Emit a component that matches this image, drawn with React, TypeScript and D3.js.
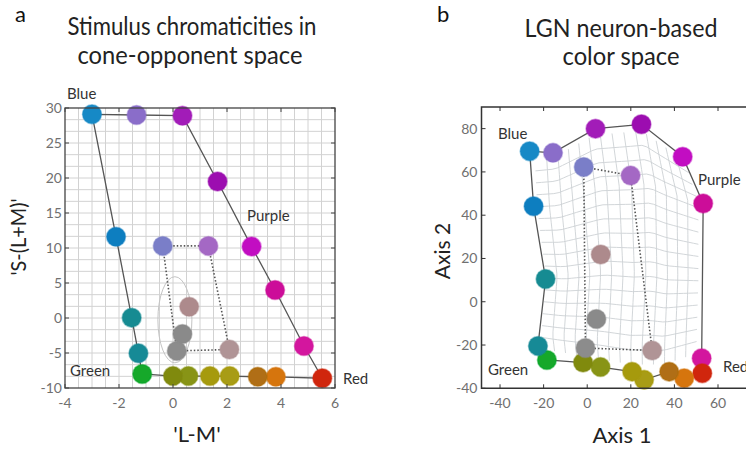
import React from 'react';
import * as d3 from 'd3';

const width = 746;
const height = 449;
const font = 'Lato, "Open Sans", sans-serif';
const lineColor = '#555';
const gridColor = '#d2d2d2';

// 24 stimuli: 18 on the outline (in drawing order), then 6 inner ones
const stimColors = [
  '#1689c6', '#8a6dc9', '#a21bb8', '#9c0fb0', '#c20fc2', '#cc1199',
  '#d3189e', '#d0260f', '#d67510', '#b06e12', '#a89c12', '#a69a10',
  '#889414', '#808a10', '#12a82c', '#168a96', '#168b92', '#0f7ec0',
  '#7a7ec8', '#a468c4', '#b09496', '#8c8c8c', '#8a8a8a', '#ad8a8c',
];
// panel a: cone-opponent coordinates
const lmValues = [
  -3.0, -1.35, 0.35, 1.65, 2.91, 3.78, 4.85, 5.53, 3.81, 3.14, 2.1, 1.37,
  0.57, 0.0, -1.14, -1.28, -1.53, -2.11,
  -0.38, 1.31, 2.09, 0.14, 0.35, 0.6,
];
const sValues = [
  29.1, 29.0, 28.9, 19.5, 10.2, 4.0, -4.0, -8.6, -8.4, -8.4, -8.3, -8.3,
  -8.3, -8.3, -8.0, -5.05, 0.05, 11.6,
  10.3, 10.3, -4.5, -4.7, -2.3, 1.6,
];
// panel b: LGN-based coordinates
const axis1Values = [
  -26.4, -15.7, 3.8, 24.9, 43.8, 53.2, 52.5, 52.8, 44.5, 37.6, 26.1, 20.6,
  6.1, -1.9, -18.5, -22.6, -19.1, -24.6,
  -1.6, 19.9, 29.8, -0.8, 4.2, 6.2,
];
const axis2Values = [
  69.6, 68.8, 80.0, 82.0, 67.0, 45.4, -26.1, -33.0, -35.3, -32.3, -36.1, -32.3,
  -30.2, -28.1, -26.9, -20.4, 10.5, 44.1,
  62.3, 58.3, -22.5, -21.4, -8.0, 21.8,
];
const outlineIdx = d3.range(18);
const dottedIdx = [18, 19, 20, 21];

// faint ellipse in panel a (data units)
const ellipseA = { cx: 0.07, cy: -0.25, rx: 0.63, ry: 6.15 };

// warped grid boundaries in panel b (data units)
const meshTop = [[-24, 66], [-15, 67], [3, 77], [25, 79], [45, 65]];
const meshBottom = [[-20, -22], [-2, -25], [20, -29], [35, -29], [50, -24]];
const meshLeft = [[-24, 66], [-23, 44], [-19, 12], [-21, -15], [-20, -22]];
const meshRight = [[45, 65], [51, 45], [51, 10], [50, -24]];

const xTicksA = [-4, -2, 0, 2, 4, 6];
const yTicksA = [-10, -5, 0, 5, 10, 15, 20, 25, 30];
const xTicksB = [-40, -20, 0, 20, 40, 60];
const yTicksB = [-40, -20, 0, 20, 40, 60, 80];

const xA = d3.scaleLinear().domain([-4, 6]).range([65, 335]);
const yA = d3.scaleLinear().domain([-10, 30]).range([388, 108]);
const xB = d3.scaleLinear().domain([-48.5, 80]).range([481.5, 761.6]);
const yB = d3.scaleLinear().domain([-40, 90]).range([388.3, 107]);

function along(pts, f) {
  const lens = [0];
  for (let i = 1; i < pts.length; i++) {
    lens.push(lens[i - 1] + Math.hypot(pts[i][0] - pts[i - 1][0], pts[i][1] - pts[i - 1][1]));
  }
  const target = f * lens[lens.length - 1];
  let i = 1;
  while (i < pts.length - 1 && lens[i] < target) i++;
  const seg = lens[i] - lens[i - 1] || 1;
  const u = Math.max(0, Math.min(1, (target - lens[i - 1]) / seg));
  return [pts[i - 1][0] + u * (pts[i][0] - pts[i - 1][0]), pts[i - 1][1] + u * (pts[i][1] - pts[i - 1][1])];
}

function meshLines() {
  const px = (pts) => pts.map((p) => [xB(p[0]), yB(p[1])]);
  const T = px(meshTop), B = px(meshBottom), L = px(meshLeft), R = px(meshRight);
  const c00 = T[0], c10 = T[T.length - 1], c01 = B[0], c11 = B[B.length - 1];
  const P = (s, t) => {
    const t1 = along(T, s), b1 = along(B, s), l1 = along(L, t), r1 = along(R, t);
    return [0, 1].map((k) =>
      (1 - t) * t1[k] + t * b1[k] + (1 - s) * l1[k] + s * r1[k] -
      ((1 - s) * (1 - t) * c00[k] + s * (1 - t) * c10[k] + (1 - s) * t * c01[k] + s * t * c11[k]));
  };
  const line = d3.line();
  const steps = d3.range(0, 1.0001, 1 / 30);
  const out = [];
  d3.range(1, 14).forEach((i) => out.push(line(steps.map((t) => P(i / 14, t)))));
  d3.range(1, 16).forEach((j) => out.push(line(steps.map((s) => P(s, j / 16)))));
  return out;
}

function Panel({ xs, ys, xv, yv, ellipse }) {
  const pts = xv.map((v, i) => [xs(v), ys(yv[i])]);
  const line = d3.line();
  return (
    <g>
      {ellipse && (
        <ellipse cx={xs(ellipse.cx)} cy={ys(ellipse.cy)}
          rx={xs(ellipse.cx + ellipse.rx) - xs(ellipse.cx)}
          ry={ys(ellipse.cy) - ys(ellipse.cy + ellipse.ry)}
          fill='none' stroke='#c4c4c4' strokeWidth='1' />
      )}
      <path d={line(outlineIdx.map((i) => pts[i])) + 'Z'} fill='none' stroke={lineColor} strokeWidth='1.3' />
      <path d={line(dottedIdx.map((i) => pts[i])) + 'Z'} fill='none' stroke={lineColor}
        strokeWidth='1.6' strokeDasharray='1.5,2' />
      {pts.map((p, i) => (
        <circle key={i} cx={p[0]} cy={p[1]} r='9.5' fill={stimColors[i]}
          stroke={stimColors[i]} strokeOpacity='0.45' strokeWidth='1.5' filter='url(#soft)' />
      ))}
    </g>
  );
}

const tickText = { fontFamily: font, fontSize: 14, fill: '#707070' };
const labelText = { fontFamily: font, fontSize: 15, fill: '#333' };

export default function App() {
  const [l0, r0] = xA.range();
  const [b0, t0] = yA.range();
  const lB = xB.range()[0];
  const [bB, tB] = yB.range();
  const gridX = d3.range(-3.5, 6, 0.5);
  const gridY = d3.range(1, 24).map((k) => -10 + (5 / 3) * k);

  return (
    <svg width={width} height={height} style={{ position: 'absolute', left: 0, top: 0, background: '#fff' }}>
      <defs>
        <filter id='soft' x='-20%' y='-20%' width='140%' height='140%'>
          <feGaussianBlur stdDeviation='0.5' />
        </filter>
      </defs>

      {/* panel a */}
      <text x='15' y='22' style={{ fontFamily: font, fontSize: 22, fill: '#111' }}>a</text>
      <text x='192' y='35' textAnchor='middle' textLength='249' lengthAdjust='spacingAndGlyphs'
        style={{ fontFamily: font, fontSize: 25, fill: '#222' }}>Stimulus chromaticities in</text>
      <text x='190' y='64' textAnchor='middle' textLength='225' lengthAdjust='spacingAndGlyphs'
        style={{ fontFamily: font, fontSize: 25, fill: '#222' }}>cone-opponent space</text>

      <g>
        {gridX.map((v) => (
          <line key={'gx' + v} x1={xA(v)} x2={xA(v)} y1={t0} y2={b0} stroke={gridColor} strokeWidth='1' />
        ))}
        {gridY.map((v) => (
          <line key={'gy' + v} x1={l0} x2={r0} y1={yA(v)} y2={yA(v)} stroke={gridColor} strokeWidth='1' />
        ))}
      </g>
      <Panel xs={xA} ys={yA} xv={lmValues} yv={sValues} ellipse={ellipseA} />
      <rect x={l0} y={t0} width={r0 - l0} height={b0 - t0} fill='none' stroke='#444' strokeWidth='1.3' />
      {xTicksA.map((v) => (
        <g key={'xa' + v}>
          <line x1={xA(v)} x2={xA(v)} y1={b0} y2={b0 - 4} stroke='#444' />
          <line x1={xA(v)} x2={xA(v)} y1={t0} y2={t0 + 4} stroke='#444' />
          <text x={xA(v)} y={b0 + 20} textAnchor='middle' style={tickText}>{v}</text>
        </g>
      ))}
      {yTicksA.map((v) => (
        <g key={'ya' + v}>
          <line x1={l0} x2={l0 + 4} y1={yA(v)} y2={yA(v)} stroke='#444' />
          <line x1={r0} x2={r0 - 4} y1={yA(v)} y2={yA(v)} stroke='#444' />
          <text x={l0 - 3} y={yA(v) + 5} textAnchor='end' style={tickText}>{v}</text>
        </g>
      ))}
      <text x='67' y='99' style={labelText}>Blue</text>
      <text x='247' y='221' style={labelText}>Purple</text>
      <text x='70' y='376' style={labelText}>Green</text>
      <text x='343' y='384' style={labelText}>Red</text>
      <text x='197' y='442' textAnchor='middle' style={{ fontFamily: font, fontSize: 22, fill: '#222' }}>'L-M'</text>
      <text transform='translate(26,237) rotate(-90)' textAnchor='middle' textLength='77' lengthAdjust='spacingAndGlyphs'
        style={{ fontFamily: font, fontSize: 21, fill: '#222' }}>'S-(L+M)'</text>

      {/* panel b */}
      <text x='437' y='22' style={{ fontFamily: font, fontSize: 22, fill: '#111' }}>b</text>
      <text x='621' y='37' textAnchor='middle' textLength='193' lengthAdjust='spacingAndGlyphs'
        style={{ fontFamily: font, fontSize: 25, fill: '#222' }}>LGN neuron-based</text>
      <text x='621' y='65' textAnchor='middle' textLength='117' lengthAdjust='spacingAndGlyphs'
        style={{ fontFamily: font, fontSize: 25, fill: '#222' }}>color space</text>

      <g>
        {meshLines().map((d, i) => (
          <path key={'m' + i} d={d} fill='none' stroke='#cdd1d5' strokeWidth='0.9' />
        ))}
      </g>
      <Panel xs={xB} ys={yB} xv={axis1Values} yv={axis2Values} />
      <path d={`M${width},${tB}H${lB}V${bB}H${width}`} fill='none' stroke='#333' strokeWidth='1.5' />
      {xTicksB.map((v) => (
        <g key={'xb' + v}>
          <line x1={xB(v)} x2={xB(v)} y1={bB} y2={bB - 4} stroke='#333' />
          <line x1={xB(v)} x2={xB(v)} y1={tB} y2={tB + 4} stroke='#333' />
          <text x={xB(v)} y={bB + 20} textAnchor='middle' style={tickText}>{v}</text>
        </g>
      ))}
      {yTicksB.map((v) => (
        <g key={'yb' + v}>
          <line x1={lB} x2={lB + 4} y1={yB(v)} y2={yB(v)} stroke='#333' />
          <text x={lB - 4} y={yB(v) + 5} textAnchor='end' style={tickText}>{v}</text>
        </g>
      ))}
      <text x='498' y='139' style={labelText}>Blue</text>
      <text x='698' y='185' style={labelText}>Purple</text>
      <text x='488' y='375' style={labelText}>Green</text>
      <text x='723' y='372' style={labelText}>Red</text>
      <text x='622' y='443' textAnchor='middle' style={{ fontFamily: font, fontSize: 22, fill: '#222' }}>Axis 1</text>
      <text transform='translate(450,251) rotate(-90)' textAnchor='middle'
        style={{ fontFamily: font, fontSize: 21, fill: '#222' }}>Axis 2</text>
    </svg>
  );
}
